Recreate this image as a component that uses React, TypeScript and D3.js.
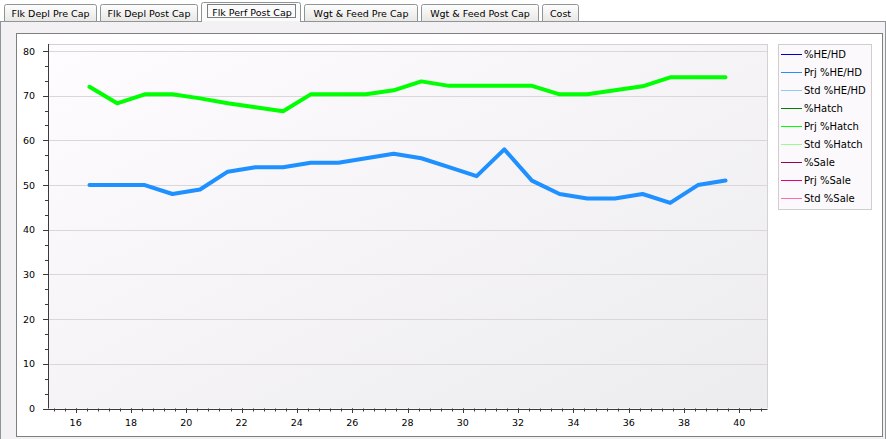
import React from "react";
import * as d3 from "d3";

const weeks = [16.5, 17.5, 18.5, 19.5, 20.5, 21.5, 22.5, 23.5, 24.5, 25.5, 26.5, 27.5, 28.5, 29.5, 30.5, 31.5, 32.5, 33.5, 34.5, 35.5, 36.5, 37.5, 38.5, 39.5];
const prjHeHd = [50, 50, 50, 48, 49, 53, 54, 54, 55, 55, 56, 57, 56, 54, 52, 58, 51, 48, 47, 47, 48, 46, 50, 51];
const prjHatch = [72, 68.3, 70.3, 70.3, 69.4, 68.3, 67.4, 66.5, 70.3, 70.3, 70.3, 71.2, 73.2, 72.2, 72.2, 72.2, 72.2, 70.3, 70.3, 71.2, 72.1, 74.1, 74.1, 74.1];

const tabLabels = ["Flk Depl Pre Cap", "Flk Depl Post Cap", "Flk Perf Post Cap", "Wgt & Feed Pre Cap", "Wgt & Feed Post Cap", "Cost"];
const tabEdges = [[4, 97], [100, 198], [201, 301], [304, 418], [421, 539], [542, 579]];
const selectedTab = 2;

const legendNames = ["%HE/HD", "Prj %HE/HD", "Std %HE/HD", "%Hatch", "Prj %Hatch", "Std %Hatch", "%Sale", "Prj %Sale", "Std %Sale"];
const legendColors = ["#0000c8", "#1e90ff", "#87cefa", "#008000", "#00ff00", "#98fb98", "#9a0055", "#e8007a", "#ff69b4"];

const yTicks = [0, 10, 20, 30, 40, 50, 60, 70, 80];
const xTicks = [16, 18, 20, 22, 24, 26, 28, 30, 32, 34, 36, 38, 40];

const FONT = "'DejaVu Sans', Verdana, sans-serif";

export default function App() {
  const W = 886, H = 439;
  const x = d3.scaleLinear().domain([15, 41]).range([48, 767]);
  const y = d3.scaleLinear().domain([0, 80]).range([408.5, 51]);
  const plotTop = 44;

  const line = d3.line<[number, number]>().x(d => x(d[0])).y(d => y(d[1]));
  const heData: [number, number][] = weeks.map((w, i) => [w, prjHeHd[i]]);
  const hatchData: [number, number][] = weeks.map((w, i) => [w, prjHatch[i]]);

  const yMinor: number[] = [];
  for (let v = 0; v <= 80.01; v += 10 / 3) yMinor.push(v);
  const xMinor: number[] = [];
  for (let v = 15.2; v <= 41.001; v += 0.4) xMinor.push(+v.toFixed(2));

  const tabPath = (x0: number, x1: number, top: number, bottom: number) =>
    `M${x0 + 0.5},${bottom} L${x0 + 0.5},${top + 2.5} Q${x0 + 0.5},${top + 0.5} ${x0 + 2.5},${top + 0.5} L${x1 - 2.5},${top + 0.5} Q${x1 - 0.5},${top + 0.5} ${x1 - 0.5},${top + 2.5} L${x1 - 0.5},${bottom}`;

  return (
    <svg width={W} height={H} style={{ position: "absolute", left: 0, top: 0, display: "block" }}>
      <defs>
        <linearGradient id="tabg" x1="0" y1="0" x2="0" y2="1">
          <stop offset="0" stopColor="#fefefe" />
          <stop offset="1" stopColor="#e8e7e4" />
        </linearGradient>
        <linearGradient id="plotg" x1="0" y1="0" x2="1" y2="1">
          <stop offset="0" stopColor="#fefcfe" />
          <stop offset="1" stopColor="#ecebee" />
        </linearGradient>
      </defs>
      <rect x={0} y={0} width={W} height={H} fill="#ffffff" />
      {/* panel */}
      <rect x={0.5} y={21.5} width={885} height={420} fill="#f4f1f4" stroke="#8e9598" />
      {/* tabs */}
      {tabLabels.map((t, i) => {
        const [x0, x1] = tabEdges[i];
        const sel = i === selectedTab;
        const top = sel ? 2 : 4;
        const bottom = sel ? 22 : 21.5;
        return (
          <g key={t}>
            <path d={tabPath(x0, x1, top, bottom) + (sel ? "" : " Z")} fill={sel ? "#fcfbfc" : "url(#tabg)"} stroke="#8e9598" />
            {sel && <rect x={x0 + 1} y={21} width={x1 - x0 - 2} height={2} fill="#f4f1f4" />}
            {sel && <rect x={207.5} y={4.5} width={88} height={13} fill="none" stroke="#000" strokeDasharray="1,1" />}
            <text x={(x0 + x1) / 2 + (sel ? 1 : 0)} y={sel ? 15.5 : 17} textAnchor="middle" fontFamily={FONT} fontSize={9.5} fill="#000">{t}</text>
          </g>
        );
      })}
      {/* chart box */}
      <rect x={16.5} y={33.5} width={866} height={403} fill="#ffffff" stroke="#7f7f7f" />
      {/* plot area */}
      <rect x={x(15)} y={plotTop} width={x(41) - x(15)} height={y(0) - plotTop} fill="url(#plotg)" />
      {yTicks.filter(v => v > 0).map(v => (
        <line key={v} x1={x(15)} x2={x(41)} y1={Math.round(y(v)) + 0.5} y2={Math.round(y(v)) + 0.5} stroke="#dad6da" />
      ))}
      <line x1={x(15)} x2={x(41) + 0.5} y1={plotTop + 0.5} y2={plotTop + 0.5} stroke="#d4d0d4" />
      <line x1={x(41) + 0.5} x2={x(41) + 0.5} y1={plotTop} y2={y(0)} stroke="#d4d0d4" />
      {/* series */}
      <path d={line(hatchData) || ""} fill="none" stroke="#00ff00" strokeWidth={4} strokeLinejoin="round" strokeLinecap="round" />
      <path d={line(heData) || ""} fill="none" stroke="#1e90ff" strokeWidth={4} strokeLinejoin="round" strokeLinecap="round" />
      {/* y axis */}
      <line x1={x(15) + 0.5} x2={x(15) + 0.5} y1={plotTop} y2={y(0)} stroke="#3a3a3a" />
      {yMinor.map((v, i) => (
        <line key={"ym" + i} x1={x(15) - 3} x2={x(15)} y1={Math.round(y(v)) + 0.5} y2={Math.round(y(v)) + 0.5} stroke="#3a3a3a" />
      ))}
      {yTicks.map(v => (
        <g key={"yt" + v}>
          <line x1={x(15) - 5} x2={x(15)} y1={Math.round(y(v)) + 0.5} y2={Math.round(y(v)) + 0.5} stroke="#3a3a3a" />
          <text x={35} y={y(v) + 3.5} textAnchor="end" fontFamily={FONT} fontSize={9.5} fill="#000">{v}</text>
        </g>
      ))}
      {/* x axis */}
      <line x1={x(15) - 5} x2={x(41) + 0.5} y1={Math.round(y(0)) + 0.5} y2={Math.round(y(0)) + 0.5} stroke="#3a3a3a" />
      {xMinor.map((v, i) => (
        <line key={"xm" + i} x1={Math.round(x(v)) + 0.5} x2={Math.round(x(v)) + 0.5} y1={y(0)} y2={y(0) + 3} stroke="#3a3a3a" />
      ))}
      {xTicks.map(v => (
        <g key={"xt" + v}>
          <line x1={Math.round(x(v)) + 0.5} x2={Math.round(x(v)) + 0.5} y1={y(0)} y2={y(0) + 4.5} stroke="#3a3a3a" />
          <text x={x(v)} y={426} textAnchor="middle" fontFamily={FONT} fontSize={9.5} fill="#000">{v}</text>
        </g>
      ))}
      {/* legend */}
      <rect x={778.5} y={44.5} width={93} height={165} fill="#fbf9fb" stroke="#d0ccd0" />
      {legendNames.map((n, i) => {
        const ly = 54 + i * 18;
        return (
          <g key={n}>
            <line x1={781} x2={802} y1={ly + 0.5} y2={ly + 0.5} stroke={legendColors[i]} strokeWidth={1} />
            <text x={804} y={ly + 3.5} fontFamily={FONT} fontSize={10} fill="#000">{n}</text>
          </g>
        );
      })}
    </svg>
  );
}
